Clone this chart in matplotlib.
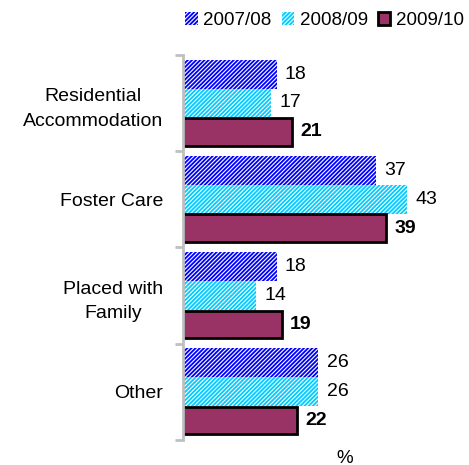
import matplotlib
matplotlib.use("Agg")
import matplotlib.pyplot as plt
import numpy as np

plt.rcParams['font.family'] = ['Liberation Sans', 'DejaVu Sans']
plt.rcParams['hatch.linewidth'] = 0.8

categories = ["Residential\nAccommodation", "Foster Care", "Placed with\nFamily", "Other"]
series_names = ["2007/08", "2008/09", "2009/10"]
v0708 = [18, 37, 18, 26]
v0809 = [17, 43, 14, 26]
v0910 = [21, 39, 19, 22]

fig = plt.figure(figsize=(4.69, 4.65), dpi=100)
ax = fig.add_axes([0.390, 0.054, 0.555, 0.828])

y = np.arange(len(categories))
h = 0.3
hatch = '/' * 8
b1 = ax.barh(y - 0.3, v0708, height=h, color='#0000ff', edgecolor='white', linewidth=0, hatch=hatch, label=series_names[0])
b2 = ax.barh(y, v0809, height=h, color='#00ccff', edgecolor='white', linewidth=0, hatch=hatch, label=series_names[1])
b3 = ax.barh(y + 0.3, v0910, height=h * 0.95, color='#993366', edgecolor='black', linewidth=2, label=series_names[2])

for vals, off, wt in [(v0708, -0.3, 'normal'), (v0809, 0, 'normal'), (v0910, 0.3, 'bold')]:
    for i, v in enumerate(vals):
        ax.text(v + 1.6, i + off, str(v), va='center', ha='left', fontsize=14, fontweight=wt)

ax.set_xlim(0, 50)
ax.set_ylim(3.5, -0.5)
ax.set_yticks(y)
ax.set_yticklabels(categories, fontsize=14, multialignment='center', linespacing=1.6)
ax.tick_params(axis='y', which='major', length=0, pad=14)
ax.set_yticks(np.arange(-0.5, 4, 1), minor=True)
ax.tick_params(axis='y', which='minor', length=6, width=2, color='#c0c0c0')
ax.set_xticks([])
for s in ['top', 'right', 'bottom']:
    ax.spines[s].set_visible(False)
ax.spines['left'].set_color('#c0c0c0')
ax.spines['left'].set_linewidth(2)

ax.set_xlabel('%', fontsize=13.5)
ax.xaxis.set_label_coords((345 - 183) / 260, -0.025)

leg = fig.legend(handles=[b1, b2, b3], loc='upper right', bbox_to_anchor=(1.025, 1.01), ncol=3,
                 frameon=False, fontsize=13.5, handlelength=0.65, handleheight=0.65,
                 handletextpad=0.3, columnspacing=0.55)

fig.savefig('out.png', dpi=100)
